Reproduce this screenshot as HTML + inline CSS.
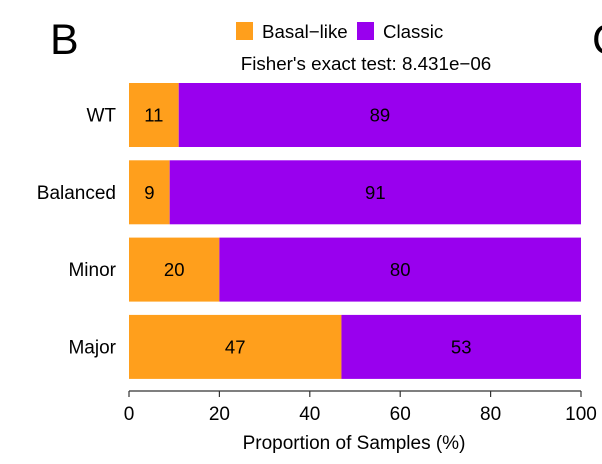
<!DOCTYPE html>
<html><head><meta charset="utf-8"><style>
html,body{margin:0;padding:0;background:#fff;}
svg{display:block;font-family:"Liberation Sans",Arial,sans-serif;}
</style></head><body>
<svg id="chart" width="602" height="464" viewBox="0 0 602 464">
<text x="50" y="54" font-size="43" fill="#000">B</text>
<text x="592" y="54" font-size="43" fill="#000">C</text>
<g>
<rect x="236" y="22" width="17" height="18" fill="#FF9F1C"/>
<text x="262" y="38" font-size="18.7" fill="#000">Basal−like</text>
<rect x="357" y="22" width="17" height="18" fill="#9900EE"/>
<text x="383" y="38" font-size="18.7" fill="#000">Classic</text>
</g>
<text x="366" y="70" font-size="18.8" text-anchor="middle" fill="#000">Fisher's exact test: 8.431e−06</text>
<g id="bars"></g>
<g id="axis"></g>
<text x="354" y="449" font-size="19" text-anchor="middle" fill="#000">Proportion of Samples (%)</text>
</svg>
<script>
const categories = ["WT","Balanced","Minor","Major"];
const basalValues = [11, 9, 20, 47];
const classicValues = [89, 91, 80, 53];
const basalLabels = ["11","9","20","47"];
const classicLabels = ["89","91","80","53"];
const tickValues = [0,20,40,60,80,100];

const ns="http://www.w3.org/2000/svg";
const x0=129, x1=581;
const xs=v=>x0+(x1-x0)*v/100;
const rowTop=i=>83+i*77.3;
const barH=64;
function mk(tag,attrs,parent){const e=document.createElementNS(ns,tag);for(const k in attrs)e.setAttribute(k,attrs[k]);parent.appendChild(e);return e;}
const bars=document.getElementById('bars');
categories.forEach((c,i)=>{
  const y=rowTop(i);
  const b=basalValues[i], cl=classicValues[i];
  const r1=mk('rect',{x:xs(0),y:y,width:xs(b)-xs(0),height:barH,fill:'#FF9F1C'},bars);
  
  
  const r2=mk('rect',{x:xs(b),y:y,width:xs(b+cl)-xs(b),height:barH,fill:'#9900EE'},bars);
  
  
  const t1=mk('text',{x:(xs(0)+xs(b))/2,y:y+barH/2+6.5,'font-size':18.5,'text-anchor':'middle',fill:'#000'},bars);
  t1.textContent=basalLabels[i];
  
  
  const t2=mk('text',{x:(xs(b)+xs(b+cl))/2,y:y+barH/2+6.5,'font-size':18.5,'text-anchor':'middle',fill:'#000'},bars);
  t2.textContent=classicLabels[i];
  
  
  const cat=mk('text',{x:116,y:y+barH/2+6.5,'font-size':19,'text-anchor':'end',fill:'#000'},bars);
  cat.textContent=c;
  
  
});
const axis=document.getElementById('axis');
const line=mk('line',{x1:xs(0),x2:xs(100),y1:391,y2:391,stroke:'#333','stroke-width':1.2},axis);


tickValues.forEach(v=>{
  const t=mk('line',{x1:xs(v),x2:xs(v),y1:391,y2:397,stroke:'#333','stroke-width':1.2},axis);
  
  
  const l=mk('text',{x:xs(v),y:420,'font-size':19,'text-anchor':'middle',fill:'#000'},axis);
  l.textContent=String(v);
  
  
});
</script>
</body></html>
